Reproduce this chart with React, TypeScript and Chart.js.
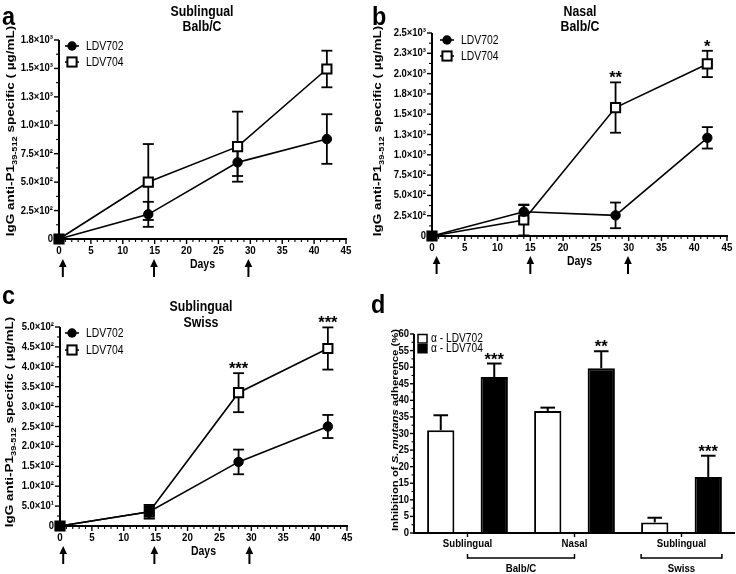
import { useEffect, useRef } from 'react';
import { Chart, registerables } from 'chart.js';
Chart.register(...registerables);

const FONT = '"Liberation Sans", Arial, sans-serif';
const W = 368;
const H = 287;

// ---------- data ----------
const days = [0, 14, 28, 42];
const dayTickLabels = ['0', '5', '10', '15', '20', '25', '30', '35', '40', '45'];
const seriesNames = ['LDV702', 'LDV704'];

const aLDV702 = [0, 217, 674, 879];
const aLDV702Err = [0, 110, 120, 218];
const aLDV704 = [0, 501, 812, 1495];
const aLDV704Err = [0, 334, 308, 161];
const aStars = ['', '', '', ''];
const aYTickLabels = ['0', '2.5×10²', '5.0×10²', '7.5×10²', '1.0×10³', '1.3×10³', '1.5×10³', '1.8×10³'];
const aArrowDays = [0.6, 14.9, 29.7];

const bLDV702 = [0, 299, 254, 1209];
const bLDV702Err = [0, 82, 158, 132];
const bLDV704 = [0, 197, 1582, 2119];
const bLDV704Err = [0, 190, 310, 162];
const bStars = ['', '', '**', '*'];
const bYTickLabels = ['0', '2.5×10²', '5.0×10²', '7.5×10²', '1.0×10³', '1.3×10³', '1.5×10³', '1.8×10³', '2.0×10³', '2.3×10³', '2.5×10³'];
const bArrowDays = [0.7, 15, 29.9];

const cLDV702 = [0, 36, 161, 250];
const cLDV702Err = [0, 17, 31, 29];
const cLDV704 = [0, 36, 335, 446];
const cLDV704Err = [0, 17, 49, 53];
const cStars = ['', '', '***', '***'];
const cYTickLabels = ['0', '5.0×10¹', '1.0×10²', '1.5×10²', '2.0×10²', '2.5×10²', '3.0×10²', '3.5×10²', '4.0×10²', '4.5×10²', '5.0×10²'];
const cArrowDays = [0.5, 14.8, 29.7];

const dCategories = ['Sublingual', 'Nasal', 'Sublingual'];
const dGroups = ['Balb/C', 'Swiss'];
const dSeriesNames = ['α - LDV702', 'α - LDV704'];
const dLDV702 = [31, 36.8, 3.2];
const dLDV702Err = [4.5, 1.0, 1.4];
const dLDV704 = [47.0, 49.7, 16.9];
const dLDV704Err = [4.1, 5.1, 6.4];
const dStars = ['***', '**', '***'];
const dYTickLabels = ['0', '5', '10', '15', '20', '25', '30', '35', '40', '45', '50', '55', '60'];

// ---------- drawing helpers ----------
function drawText(ctx: any, s: string, x: number, y: number, size: number, o: any = {}) {
  const { bold = true, italic = false, align = 'center', baseline = 'middle', sx = 0.84 } = o;
  ctx.save();
  ctx.font = `${italic ? 'italic ' : ''}${bold ? 'bold ' : ''}${size}px ${FONT}`;
  ctx.textAlign = align;
  ctx.textBaseline = baseline;
  ctx.fillStyle = '#000';
  ctx.translate(x, y);
  ctx.scale(sx, 1);
  ctx.fillText(s, 0, 0);
  ctx.restore();
}

function drawRotated(ctx: any, parts: any[], cx: number, cy: number, size: number, sy = 0.85) {
  ctx.save();
  ctx.translate(cx, cy);
  ctx.rotate(-Math.PI / 2);
  ctx.scale(1, sy);
  ctx.fillStyle = '#000';
  ctx.textBaseline = 'middle';
  ctx.textAlign = 'left';
  const items = parts.map((p) => {
    const sz = p.sub ? size * 0.68 : size;
    const font = `${p.italic ? 'italic ' : ''}bold ${sz}px ${FONT}`;
    ctx.font = font;
    return { ...p, font, w: ctx.measureText(p.t).width };
  });
  const total = items.reduce((a: number, b: any) => a + b.w, 0);
  let x = -total / 2;
  for (const it of items) {
    ctx.font = it.font;
    ctx.fillText(it.t, x, it.sub ? size * 0.32 : 0);
    x += it.w;
  }
  ctx.restore();
}

function line(ctx: any, x1: number, y1: number, x2: number, y2: number, w: number) {
  ctx.save();
  ctx.strokeStyle = '#000';
  ctx.lineWidth = w;
  ctx.beginPath();
  ctx.moveTo(x1, y1);
  ctx.lineTo(x2, y2);
  ctx.stroke();
  ctx.restore();
}

// ---------- line panels ----------
function linePlugin(p: any) {
  return {
    id: 'decor',
    beforeDatasetsDraw(chart: any) {
      const ctx = chart.ctx;
      const xs = chart.scales.x;
      const ys = chart.scales.y;
      [[p.s1, p.e1], [p.s2, p.e2]].forEach(([vals, errs]: any) => {
        vals.forEach((v: number, j: number) => {
          const e = errs[j];
          if (!e) return;
          const x = xs.getPixelForValue(days[j]);
          const y1 = ys.getPixelForValue(v + e);
          const y2 = ys.getPixelForValue(Math.max(0, v - e));
          line(ctx, x, y1, x, y2, 1.8);
          line(ctx, x - 5.5, y1, x + 5.5, y1, 1.8);
          line(ctx, x - 5.5, y2, x + 5.5, y2, 1.8);
        });
      });
    },
    afterDraw(chart: any) {
      const ctx = chart.ctx;
      const xs = chart.scales.x;
      const ys = chart.scales.y;
      const L = xs.getPixelForValue(0);
      const R = xs.getPixelForValue(45);
      const B = ys.getPixelForValue(0);
      const T = ys.getPixelForValue(ys.max);
      // axes
      line(ctx, L, T, L, B + 1, 2);
      line(ctx, L - 1, B, R + 1, B, 2);
      // x ticks
      for (let v = 0; v <= 45; v++) {
        const x = xs.getPixelForValue(v);
        if (v % 5 === 0) line(ctx, x, B, x, B + 5, 1.4);
        else line(ctx, x, B, x, B + 3, 1.1);
      }
      dayTickLabels.forEach((t, i) => {
        drawText(ctx, t, xs.getPixelForValue(i * 5), B + 12, 11.5, { sx: 0.85 });
      });
      drawText(ctx, 'Days', (L + R) / 2, B + 26, 12.5, { sx: 0.84 });
      // y ticks
      p.yTickLabels.forEach((t: string, i: number) => {
        const y = ys.getPixelForValue(i * p.yStep);
        line(ctx, L - 5, y, L, y, 1.4);
        if (i > 0) {
          const ym = ys.getPixelForValue((i - 0.5) * p.yStep);
          line(ctx, L - 3, ym, L, ym, 1.1);
        }
        drawText(ctx, t, L - 6, y, 11, { align: 'right', sx: 0.86 });
      });
      // y title
      drawRotated(ctx, [{ t: 'IgG anti-P1' }, { t: '39-512', sub: true }, { t: ' specific ( µg/mL)' }], p.yTitleX, p.yTitleY, 13.5);
      // titles
      p.title.forEach((t: string, i: number) => drawText(ctx, t, p.titleX, p.titleY[i], 14.5, { sx: 0.85 }));
      drawText(ctx, p.letter, p.letterX, p.letterY, 26, { align: 'left', sx: 0.9 });
      // stars
      p.stars.forEach((s: string, j: number) => {
        if (!s) return;
        const x = xs.getPixelForValue(days[j]);
        const y = ys.getPixelForValue(p.s2[j] + p.e2[j]);
        drawText(ctx, s, x, y + 1, 16.5, { baseline: 'alphabetic', sx: 1 });
      });
      // legend
      const lx = p.legendX;
      const [ly1, ly2] = p.legendY;
      line(ctx, lx - 7, ly1, lx + 7, ly1, 1.6);
      ctx.save();
      ctx.fillStyle = '#000';
      ctx.beginPath();
      ctx.arc(lx, ly1, 4.7, 0, Math.PI * 2);
      ctx.fill();
      ctx.restore();
      line(ctx, lx - 7, ly2, lx + 7, ly2, 1.6);
      ctx.save();
      ctx.fillStyle = '#fff';
      ctx.strokeStyle = '#000';
      ctx.lineWidth = 2;
      ctx.fillRect(lx - 4.6, ly2 - 4.6, 9.2, 9.2);
      ctx.strokeRect(lx - 4.6, ly2 - 4.6, 9.2, 9.2);
      ctx.restore();
      drawText(ctx, seriesNames[0], p.legendTextX, ly1, 13, { bold: false, align: 'left', sx: 0.8 });
      drawText(ctx, seriesNames[1], p.legendTextX, ly2, 13, { bold: false, align: 'left', sx: 0.8 });
      // arrows
      p.arrows.forEach((d: number) => {
        const x = xs.getPixelForValue(d);
        const tip = B + 20;
        const tail = B + 38;
        line(ctx, x, tail, x, tip + 6, 2);
        ctx.save();
        ctx.fillStyle = '#000';
        ctx.beginPath();
        ctx.moveTo(x, tip);
        ctx.lineTo(x - 3.8, tip + 8);
        ctx.lineTo(x + 3.8, tip + 8);
        ctx.closePath();
        ctx.fill();
        ctx.restore();
      });
    },
  };
}

function lineConfig(p: any) {
  return {
    type: 'line',
    data: {
      datasets: [
        {
          label: seriesNames[0],
          data: days.map((d, i) => ({ x: d, y: p.s1[i] })),
          borderColor: '#000',
          borderWidth: 1.6,
          pointStyle: 'circle',
          pointRadius: 4.7,
          pointBackgroundColor: '#000',
          pointBorderColor: '#000',
          pointBorderWidth: 1,
          tension: 0,
          clip: false,
        },
        {
          label: seriesNames[1],
          data: days.map((d, i) => ({ x: d, y: p.s2[i] })),
          borderColor: '#000',
          borderWidth: 1.6,
          pointStyle: 'rect',
          pointRadius: 6.5,
          pointBackgroundColor: (c: any) => (c.dataIndex === 0 ? '#000' : '#fff'),
          pointBorderColor: '#000',
          pointBorderWidth: 2,
          tension: 0,
          clip: false,
        },
      ],
    },
    options: {
      responsive: false,
      animation: false,
      devicePixelRatio: 1,
      events: [],
      layout: { autoPadding: false, padding: { left: 0, top: p.area.T, right: W - p.area.R, bottom: 0 } },
      plugins: { legend: { display: false }, tooltip: { enabled: false }, title: { display: false } },
      scales: {
        x: {
          type: 'linear', min: 0, max: 45,
          ticks: { display: false, stepSize: 5 },
          grid: { display: false }, border: { display: false },
          afterFit: (s: any) => { s.height = H - p.area.B; },
        },
        y: {
          type: 'linear', min: 0, max: p.yStep * (p.yTickLabels.length - 1),
          ticks: { display: false, stepSize: p.yStep },
          grid: { display: false }, border: { display: false },
          afterFit: (s: any) => { s.width = p.area.L; },
        },
      },
    },
    plugins: [linePlugin(p)],
  };
}

const panelA = {
  s1: aLDV702, e1: aLDV702Err, s2: aLDV704, e2: aLDV704Err, stars: aStars,
  yTickLabels: aYTickLabels, yStep: 250, arrows: aArrowDays,
  area: { L: 59, R: 346, T: 40, B: 239 },
  title: ['Sublingual', 'Balb/C'], titleX: 202, titleY: [12, 27],
  letter: 'a', letterX: 2, letterY: 18,
  legendX: 72, legendTextX: 86, legendY: [46, 62],
  yTitleX: 11, yTitleY: 131,
};
const panelB = {
  s1: bLDV702, e1: bLDV702Err, s2: bLDV704, e2: bLDV704Err, stars: bStars,
  yTickLabels: bYTickLabels, yStep: 250, arrows: bArrowDays,
  area: { L: 64, R: 359, T: 33, B: 236 },
  title: ['Nasal', 'Balb/C'], titleX: 212, titleY: [12, 27],
  letter: 'b', letterX: 4, letterY: 18,
  legendX: 79, legendTextX: 93, legendY: [40, 56],
  yTitleX: 10, yTitleY: 131,
};
const panelC = {
  s1: cLDV702, e1: cLDV702Err, s2: cLDV704, e2: cLDV704Err, stars: cStars,
  yTickLabels: cYTickLabels, yStep: 50, arrows: cArrowDays,
  area: { L: 60, R: 347, T: 40, B: 239 },
  title: ['Sublingual', 'Swiss'], titleX: 201, titleY: [20, 36],
  letter: 'c', letterX: 2, letterY: 10,
  legendX: 72, legendTextX: 86, legendY: [46, 63],
  yTitleX: 10, yTitleY: 135,
};

// ---------- bar panel ----------
const dArea = { L: 46, R: 367, T: 47, B: 246 };

function barPlugin() {
  return {
    id: 'decorBar',
    afterDatasetsDraw(chart: any) {
      const ctx = chart.ctx;
      const ys = chart.scales.y;
      [[dLDV702, dLDV702Err], [dLDV704, dLDV704Err]].forEach(([vals, errs]: any, di: number) => {
        const meta = chart.getDatasetMeta(di);
        meta.data.forEach((el: any, j: number) => {
          const y0 = ys.getPixelForValue(vals[j]);
          const y1 = ys.getPixelForValue(vals[j] + errs[j]);
          line(ctx, el.x, y0, el.x, y1, 2);
          line(ctx, el.x - 7.3, y1, el.x + 7.3, y1, 2);
          if (di === 1 && dStars[j]) drawText(ctx, dStars[j], el.x, y1 + 1, 16.5, { baseline: 'alphabetic', sx: 1 });
        });
      });
    },
    afterDraw(chart: any) {
      const ctx = chart.ctx;
      const xs = chart.scales.x;
      const ys = chart.scales.y;
      const L = chart.chartArea.left;
      const R = chart.chartArea.right;
      const B = ys.getPixelForValue(0);
      const T = ys.getPixelForValue(ys.max);
      line(ctx, L, T, L, B + 1, 2);
      line(ctx, L - 1, B, R, B, 2);
      dYTickLabels.forEach((t, i) => {
        const y = ys.getPixelForValue(i * 5);
        line(ctx, L - 4, y, L, y, 1.4);
        if (i > 0) {
          const ym = ys.getPixelForValue(i * 5 - 2.5);
          line(ctx, L - 2.5, ym, L, ym, 1.1);
        }
        drawText(ctx, t, L - 5, y, 11, { align: 'right', sx: 0.86 });
      });
      dCategories.forEach((c, i) => {
        const x = xs.getPixelForValue(i);
        line(ctx, x, B, x, B + 4, 1.4);
        drawText(ctx, c, x, B + 11, 11.5, { sx: 0.84 });
      });
      // group brackets
      const by = B + 25;
      const m0 = chart.getDatasetMeta(0).data;
      const m1 = chart.getDatasetMeta(1).data;
      const g1a = xs.getPixelForValue(0);
      const g1b = xs.getPixelForValue(1);
      const g2a = m0[2].x - m0[2].width / 2;
      const g2b = m1[2].x + m1[2].width / 2;
      [[g1a, g1b], [g2a, g2b]].forEach(([a, b], gi) => {
        line(ctx, a, by, b, by, 1.5);
        line(ctx, a, by + 0.75, a, by - 4, 1.5);
        line(ctx, b, by + 0.75, b, by - 4, 1.5);
        drawText(ctx, dGroups[gi], (a + b) / 2, by + 11, 11.5, { sx: 0.84 });
      });
      // legend
      ctx.save();
      ctx.strokeStyle = '#000';
      ctx.lineWidth = 1.5;
      ctx.fillStyle = '#fff';
      ctx.fillRect(50, 47.5, 9, 8.5);
      ctx.strokeRect(50, 47.5, 9, 8.5);
      ctx.fillStyle = '#000';
      ctx.fillRect(49.3, 57, 10.4, 9.5);
      ctx.restore();
      drawText(ctx, dSeriesNames[0], 63, 52, 12, { bold: false, align: 'left', sx: 0.85 });
      drawText(ctx, dSeriesNames[1], 63, 62, 12, { bold: false, align: 'left', sx: 0.85 });
      drawRotated(ctx, [
        { t: 'Inhibition of ' }, { t: 'S. mutans', italic: true }, { t: ' adherence (%)' },
      ], 27, 143, 11.3);
      drawText(ctx, 'd', 3, 19, 26, { align: 'left', sx: 0.9 });
    },
  };
}

function barConfig() {
  return {
    type: 'bar',
    data: {
      labels: dCategories,
      datasets: [
        { label: dSeriesNames[0], data: dLDV702, backgroundColor: '#fff', borderColor: '#000', borderWidth: 2, barPercentage: 0.51, categoryPercentage: 1.0 },
        { label: dSeriesNames[1], data: dLDV704, backgroundColor: '#000', borderColor: '#000', borderWidth: 2, barPercentage: 0.51, categoryPercentage: 1.0 },
      ],
    },
    options: {
      responsive: false,
      animation: false,
      devicePixelRatio: 1,
      events: [],
      layout: { autoPadding: false, padding: { left: 0, top: dArea.T, right: W - dArea.R, bottom: 0 } },
      plugins: { legend: { display: false }, tooltip: { enabled: false }, title: { display: false } },
      scales: {
        x: {
          type: 'category', offset: true,
          ticks: { display: false }, grid: { display: false }, border: { display: false },
          afterFit: (s: any) => { s.height = H - dArea.B; },
        },
        y: {
          type: 'linear', min: 0, max: 60,
          ticks: { display: false, stepSize: 5 }, grid: { display: false }, border: { display: false },
          afterFit: (s: any) => { s.width = dArea.L; },
        },
      },
    },
    plugins: [barPlugin()],
  };
}

function Panel({ make, left, top }: any) {
  const ref = useRef<HTMLCanvasElement | null>(null);
  useEffect(() => {
    const chart = new Chart(ref.current as any, make() as any);
    return () => chart.destroy();
  }, []);
  return (
    <canvas
      ref={ref}
      width={W}
      height={H}
      style={{ position: 'absolute', left, top, width: W, height: H, display: 'block' }}
    />
  );
}

export default function App() {
  return (
    <div style={{ position: 'absolute', left: 0, top: 0, width: 736, height: 574, background: '#fff', overflow: 'hidden' }}>
      <Panel make={() => lineConfig(panelA)} left={0} top={0} />
      <Panel make={() => lineConfig(panelB)} left={368} top={0} />
      <Panel make={() => lineConfig(panelC)} left={0} top={287} />
      <Panel make={barConfig} left={368} top={287} />
    </div>
  );
}
